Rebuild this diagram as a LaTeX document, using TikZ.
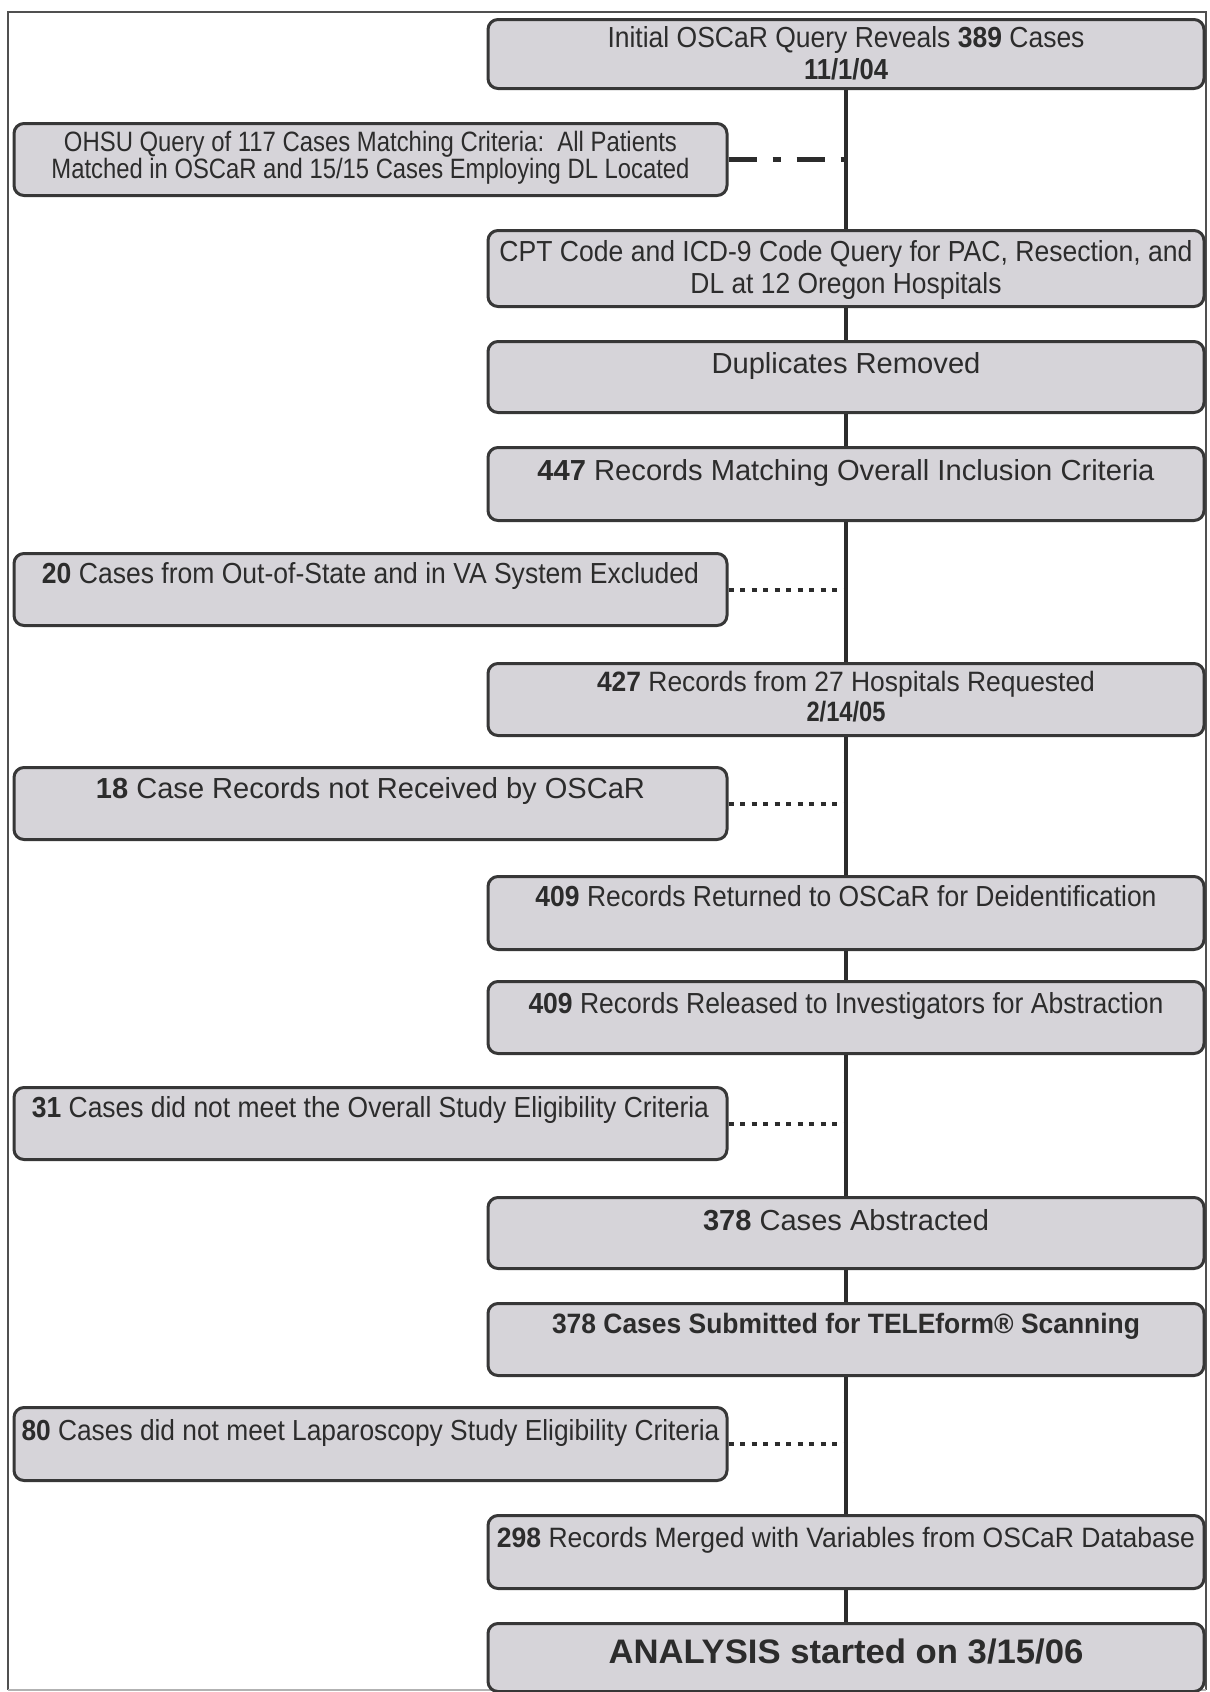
\documentclass[tikz,border=0pt]{standalone}
\usepackage{fontspec}
\setmainfont{Liberation Sans}
\usepackage{graphicx}
\definecolor{boxfill}{RGB}{214,212,217}
\definecolor{ink}{RGB}{44,44,44}
\definecolor{edge}{RGB}{55,55,55}
\definecolor{framecol}{RGB}{80,80,80}
% set a line to a given width, keeping its height
\newcommand{\fitw}[2]{\resizebox{#1}{\height}{#2}}

\begin{document}
\begin{tikzpicture}[x=0.5pt,y=-0.5pt,
  flowbox/.style={draw=edge, line width=1.5pt, fill=boxfill, rounded corners=5pt,
                  anchor=north, inner sep=0pt},
  rbox/.style={flowbox, minimum width=358pt, minimum height=36pt},
  lbox/.style={flowbox, minimum width=356.5pt, minimum height=36pt},
  lbl/.style={anchor=base, inner sep=0pt, text=ink, font=\fontsize{14.5pt}{16pt}\selectfont},
  lblsm/.style={lbl, font=\fontsize{14pt}{16pt}\selectfont},
  spine/.style={draw=ink, line width=1.6pt},
  dotlink/.style={draw=ink, line width=2pt, dash pattern=on 2.5pt off 3.25pt},
  dashdotlink/.style={draw=ink, line width=2.5pt, dash pattern=on 14pt off 8pt on 4pt off 8pt}
]
\useasboundingbox (0,0) rectangle (1210,1692);

% page frame
\draw[framecol, line width=1pt] (8,1690) -- (8,12) -- (1206,12) -- (1206,1690);
\draw[black!30, line width=0.8pt] (8,1690) -- (1206,1690);

% boxes
\node[rbox, minimum height=34.5pt] (b1) at (846,18) {};
\node[lbox] (b2) at (370.5,122) {};
\node[rbox, minimum height=38pt] (b3) at (846,229) {};
\node[rbox, minimum height=35.5pt] (b4) at (846,340) {};
\node[rbox, minimum height=36.5pt] (b5) at (846,446) {};
\node[lbox] (b6) at (370.5,552) {};
\node[rbox] (b7) at (846,662) {};
\node[lbox] (b8) at (370.5,766) {};
\node[rbox, minimum height=36.5pt] (b9) at (846,875) {};
\node[rbox] (b10) at (846,980) {};
\node[lbox] (b11) at (370.5,1086) {};
\node[rbox, minimum height=35.5pt] (b12) at (846,1196) {};
\node[rbox] (b13) at (846,1302) {};
\node[lbox, minimum height=36.5pt] (b14) at (370.5,1406) {};
\node[rbox, minimum height=36.5pt] (b15) at (846,1514) {};
\node[rbox, minimum height=34pt] (b16) at (846,1622) {};

% labels
\node[lbl] (t1a) at (846,47) {\fitw{238.5pt}{Initial OSCaR Query Reveals \textbf{389} Cases}};
\node[lbl] (t1b) at (846,79) {\fitw{42pt}{\textbf{11/1/04}}};
\node[lblsm] (t2a) at (370.5,151) {\fitw{306.5pt}{OHSU Query of 117 Cases Matching Criteria:\ \ All Patients}};
\node[lblsm] (t2b) at (370.5,178) {\fitw{319pt}{Matched in OSCaR and 15/15 Cases Employing DL Located}};
\node[lbl] (t3a) at (846,261) {\fitw{346.5pt}{CPT Code and ICD-9 Code Query for PAC, Resection, and}};
\node[lbl] (t3b) at (846,293) {\fitw{155.5pt}{DL at 12 Oregon Hospitals}};
\node[lbl] (t4) at (846,373) {\fitw{134.5pt}{Duplicates Removed}};
\node[lbl] (t5) at (846,480) {\fitw{308.5pt}{\textbf{447} Records Matching Overall Inclusion Criteria}};
\node[lbl] (t6) at (370.5,583) {\fitw{328.5pt}{\textbf{20} Cases from Out-of-State and in VA System Excluded}};
\node[lblsm] (t7a) at (846,691) {\fitw{249pt}{\textbf{427} Records from 27 Hospitals Requested}};
\node[lblsm] (t7b) at (846,721) {\fitw{39.5pt}{\textbf{2/14/05}}};
\node[lbl] (t8) at (370.5,798) {\fitw{274.5pt}{\textbf{18} Case Records not Received by OSCaR}};
\node[lbl] (t9) at (846,906) {\fitw{310.5pt}{\textbf{409} Records Returned to OSCaR for Deidentification}};
\node[lbl] (t10) at (846,1013) {\fitw{317.5pt}{\textbf{409} Records Released to Investigators for Abstraction}};
\node[lbl] (t11) at (370.5,1117) {\fitw{338.5pt}{\textbf{31} Cases did not meet the Overall Study Eligibility Criteria}};
\node[lbl] (t12) at (846,1230) {\fitw{143pt}{\textbf{378} Cases Abstracted}};
\node[lblsm] (t13) at (846,1333) {\fitw{294pt}{\textbf{378 Cases Submitted for TELEform® Scanning}}};
\node[lbl] (t14) at (370.5,1440) {\fitw{349pt}{\textbf{80} Cases did not meet Laparoscopy Study Eligibility Criteria}};
\node[lblsm] (t15) at (846,1547) {\fitw{349pt}{\textbf{298} Records Merged with Variables from OSCaR Database}};
\node[lbl, font=\fontsize{17pt}{19pt}\selectfont] (t16) at (846,1663) {\fitw{237.5pt}{\textbf{ANALYSIS started on 3/15/06}}};

% main line
\draw[spine] (b1.south) -- (b3.north);
\draw[spine] (b3.south) -- (b4.north);
\draw[spine] (b4.south) -- (b5.north);
\draw[spine] (b5.south) -- (b7.north);
\draw[spine] (b7.south) -- (b9.north);
\draw[spine] (b9.south) -- (b10.north);
\draw[spine] (b10.south) -- (b12.north);
\draw[spine] (b12.south) -- (b13.north);
\draw[spine] (b13.south) -- (b15.north);
\draw[spine] (b15.south) -- (b16.north);

% side links
\draw[dashdotlink] (b2.east) -- (b2.east -| b1.south);
\draw[dotlink] (b6.east) -- (b6.east -| b5.south);
\draw[dotlink] (b8.east) -- (b8.east -| b7.south);
\draw[dotlink] (b11.east) -- (b11.east -| b10.south);
\draw[dotlink] (b14.east) -- (b14.east -| b13.south);
\end{tikzpicture}
\end{document}
